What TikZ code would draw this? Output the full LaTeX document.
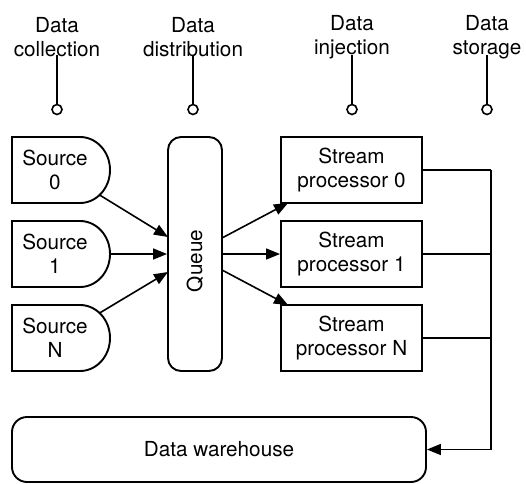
\documentclass[tikz,border=0pt]{standalone}
\usepackage{fontspec}
\setmainfont{TeX Gyre Heros}
\usetikzlibrary{arrows.meta}
\begin{document}
\begin{tikzpicture}[x=1pt,y=1pt,
  lbl/.style={align=center, font=\fontsize{20.7}{24.5}\selectfont, inner sep=0pt},
  shp/.style={draw, line width=1.9pt},
  conn/.style={line width=1.6pt},
  arr/.style={conn, -{Triangle[length=14pt,width=11pt]}},
  spbox/.style={shp, minimum width=141pt, minimum height=66pt, lbl},
  stem/.style={line width=1.7pt},
  pin/.style={draw, circle, line width=1.6pt, minimum size=10pt, inner sep=0pt}]
\useasboundingbox (0,0) rectangle (526,483);

% top labels
\node[lbl] (t1) at (57,446) {Data\\collection};
\node[lbl] (t2) at (193,446) {Data\\distribution};
\node[lbl] (t3) at (352,446) {Data\\injection};
\node[lbl] (t4) at (487,446) {Data\\storage};
\node[pin] (p1) at (57,373.5) {};
\node[pin] (p2) at (193,373.5) {};
\node[pin] (p3) at (352,373.5) {};
\node[pin] (p4) at (487,373.5) {};
\coordinate (c1) at (57,428);
\coordinate (c2) at (193,428);
\coordinate (c3) at (352,428);
\coordinate (c4) at (487,428);
\draw[stem] (c1) -- (p1.north);
\draw[stem] (c2) -- (p2.north);
\draw[stem] (c3) -- (p3.north);
\draw[stem] (c4) -- (p4.north);

% sources
\draw[shp] (12,346) -- (80,346) arc[start angle=90, end angle=-90, x radius=30, y radius=33] -- (12,280) -- cycle;
\draw[shp] (12,262) -- (80,262) arc[start angle=90, end angle=-90, x radius=30, y radius=33] -- (12,196) -- cycle;
\draw[shp] (12,178) -- (80,178) arc[start angle=90, end angle=-90, x radius=30, y radius=33] -- (12,112) -- cycle;
\node[lbl] (s0) at (55,313) {Source\\0};
\node[lbl] (s1) at (55,229) {Source\\1};
\node[lbl] (sN) at (55,145) {Source\\N};
\coordinate (s0o) at (99.6,288);
\coordinate (s1o) at (110,229);
\coordinate (sNo) at (99.6,170);

% queue
\node[shp, rounded corners=13pt, minimum width=54pt, minimum height=234pt] (q) at (195,229) {};
\node[lbl, rotate=90] (qt) at (195,222) {Queue};
\coordinate (qi0) at (168,246);
\coordinate (qiN) at (168,211);
\coordinate (qo0) at (222,245);
\coordinate (qoN) at (222,213);

% stream processors
\node[spbox] (p0) at (351.5,313) {Stream\\processor 0};
\node[spbox] (pp1) at (351.5,229) {Stream\\processor 1};
\node[spbox] (pN) at (351.5,145) {Stream\\processor N};
\coordinate (e0) at (288,280);
\coordinate (eN) at (288,178);

% warehouse
\node[shp, lbl, rounded corners=15pt, minimum width=414pt, minimum height=65pt] (w) at (219,33.5) {Data warehouse};

% connectors
\draw[arr] (s0o) -- (qi0);
\draw[arr] (s1o) -- (q.west);
\draw[arr] (sNo) -- (qiN);
\draw[arr] (qo0) -- (e0);
\draw[arr] (q.east) -- (pp1.west);
\draw[arr] (qoN) -- (eN);
\coordinate (bus) at (491,313);
\coordinate (busb) at (491,33.5);
\draw[conn] (p0.east) -- (bus);
\draw[conn] (pp1.east) -- (pp1.east -| bus);
\draw[conn] (pN.east) -- (pN.east -| bus);
\draw[arr] (bus) -- (busb) -- (w.east);
\end{tikzpicture}
\end{document}
